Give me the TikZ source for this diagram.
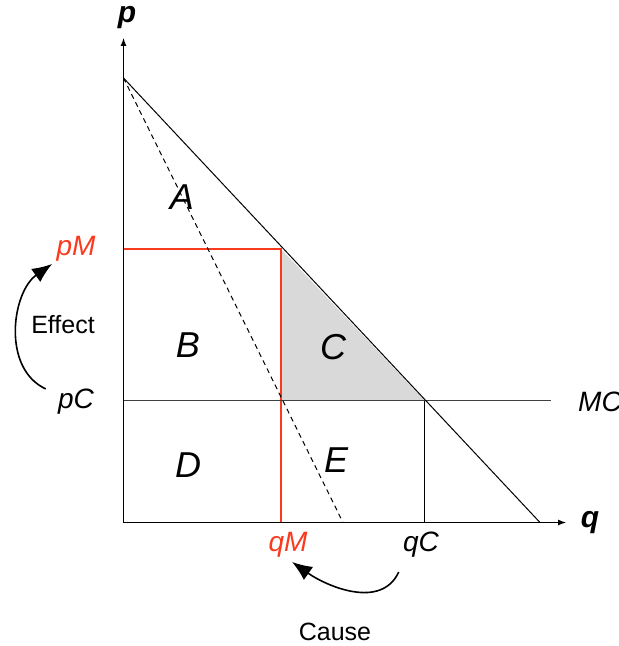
\documentclass[tikz,border=0pt]{standalone}
\usepackage{fontspec}
\setsansfont{Liberation Sans}
\usepackage{xcolor}
\usepackage{tikz}
\usetikzlibrary{positioning, arrows.meta}

\definecolor{monred}{RGB}{250,58,30}
\definecolor{dwlgray}{gray}{0.85}

\begin{document}
\begin{tikzpicture}[x=0.5pt, y=-0.5pt,
    axis/.style={line width=0.5pt, -{Latex[length=4pt,width=3pt]}},
    thinline/.style={line width=0.5pt},
    redline/.style={line width=0.6pt, monred},
    axislabel/.style={font=\sffamily\bfseries\itshape\fontsize{15}{18}\selectfont, inner sep=2pt},
    pricelabel/.style={font=\sffamily\itshape\fontsize{14}{17}\selectfont, inner sep=2pt},
    arealabel/.style={font=\sffamily\itshape\fontsize{18}{21}\selectfont},
    wordlabel/.style={font=\sffamily\fontsize{12.5}{15}\selectfont},
    bigarrow/.style={line width=0.8pt, -{Latex[length=10pt,width=8pt]}}]
    \useasboundingbox (0,0) rectangle (619,646);

    % Points
    \coordinate (O) at (123.5,522.5);
    \coordinate (ptop) at (123.5,38);
    \coordinate (qend) at (566,522.5);
    \coordinate (dtop) at (123.5,78);
    \coordinate (dbot) at (540,522.5);
    \coordinate (mrbot) at (343,522.5);
    \coordinate (M) at (281,249);
    \coordinate (K) at (424.5,400.5);
    \coordinate (mcend) at (551,400.5);

    % Deadweight loss
    \fill[dwlgray] (M) -- (M |- K) -- (K) -- cycle;

    % Monopoly and competitive levels
    \draw[redline] (O |- M) -- (M) -- (M |- O);
    \draw[thinline] (K) -- (K |- O);
    \draw[thinline, black!75] (O |- K) -- (mcend);

    % Demand and marginal revenue
    \draw[thinline] (dtop) -- (dbot);
    \draw[thinline, dash pattern=on 2.5pt off 2pt] (dtop) -- (mrbot);

    % Axes
    \draw[axis] (O) -- (ptop);
    \draw[axis] (O) -- (qend);
    \node[axislabel] (plabel) at (127,18) {p};
    \node[axislabel] (qlabel) at (590,523) {q};

    % Areas
    \node[arealabel] (A) at (182,197) {A};
    \node[arealabel] (B) at (188,345) {B};
    \node[arealabel] (C) at (333,347) {C};
    \node[arealabel] (D) at (188,465) {D};
    \node[arealabel] (E) at (336,460) {E};

    % Prices and quantities
    \node[pricelabel, monred] (pM) at (76,249) {pM};
    \node[pricelabel] (pC) at (76,402) {pC};
    \node[pricelabel] (MC) at (600,402) {MC};
    \node[pricelabel, monred] (qM) at (288,545) {qM};
    \node[pricelabel] (qC) at (421,545) {qC};

    % Cause and effect
    \node[wordlabel] (effect) at (63,325) {Effect};
    \node[wordlabel] (cause) at (335,632) {Cause};
    \draw[bigarrow] ([xshift=-4pt,yshift=-2pt]pC.north west) to[out=155,in=-145] ([yshift=1pt]pM.south west);
    \draw[bigarrow] ([yshift=-5pt]qC.south west) to[out=-115,in=-35] ([xshift=2pt]qM.south);

\end{tikzpicture}
\end{document}
